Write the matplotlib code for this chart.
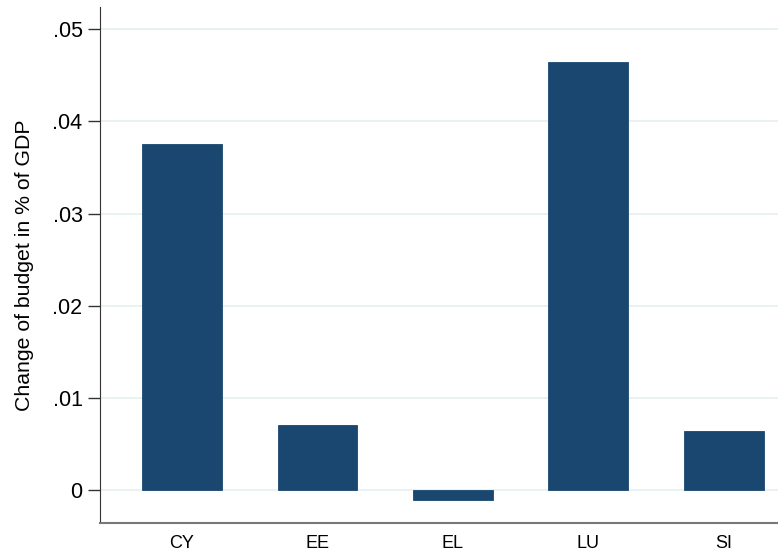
import numpy as np
import matplotlib.pyplot as plt

plt.rcParams['font.family'] = ['Liberation Sans', 'DejaVu Sans']

countries = ["CY", "EE", "EL", "LU", "SI"]
budget_change = [0.0376, 0.00705, -0.00108, 0.0464, 0.0064]

fig = plt.figure(figsize=(7.78, 5.56), dpi=100)
ax = fig.add_axes([0.1285, 0.0594, 0.8715, 0.9276])

x = np.arange(len(countries))
ax.bar(x, budget_change, width=0.59, color="#1a476f", edgecolor="#1a476f",
       linewidth=0.6, zorder=3)

ax.set_xlim(-0.606, 4.40)
ax.set_ylim(-0.0036, 0.0524)
ax.set_xticks(x)
ax.set_xticklabels(countries, fontsize=13)
yt = [0, 0.01, 0.02, 0.03, 0.04, 0.05]
ax.set_yticks(yt)
ax.set_yticklabels(["0", ".01", ".02", ".03", ".04", ".05"], fontsize=15.5)
ax.tick_params(axis="y", length=9, width=1, color="#333333", pad=3.5)
ax.tick_params(axis="x", length=0, pad=9)
ax.set_ylabel("Change of budget in % of GDP", fontsize=15.3)
ax.yaxis.set_label_coords(-0.097, 0.5)

ax.yaxis.grid(True, color="#e6eff1", linewidth=1.2, zorder=0)
ax.set_axisbelow(True)
for side in ["top", "right"]:
    ax.spines[side].set_visible(False)
ax.spines["left"].set_color("#333333")
ax.spines["bottom"].set_color("#777777")
ax.spines["bottom"].set_linewidth(1.5)

fig.savefig("out.png", dpi=100)
